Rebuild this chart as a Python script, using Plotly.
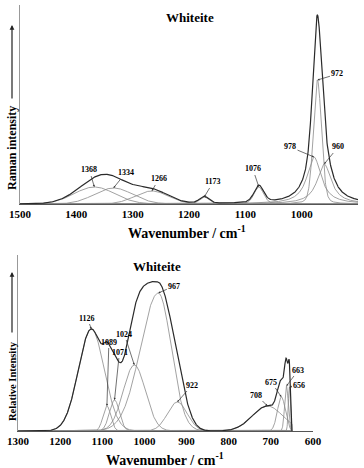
import numpy as np
import plotly.graph_objects as go

# ---------------- data ----------------
# Top panel: Raman band components (cm-1), heights (relative), FWHM (cm-1), Lorentzian fraction
top_centers = [1368, 1334, 1266, 1173, 1076, 978, 972, 960]
top_heights = [17, 16, 13, 7, 17, 47, 124, 40]
top_fwhm = [85, 80, 70, 20, 20, 30, 17, 30]
top_lorentz = [0, 0, 0, 0.3, 0.3, 1, 0.2, 1]
top_labels = ["1368", "1334", "1266", "1173", "1076", "978", "972", "960"]
top_range_wn = [1500, 900]
top_ticks = [1500, 1400, 1300, 1200, 1100, 1000, 900]

# Bottom panel: infrared band components (left / right half widths may differ)
bot_centers = [1126, 1089, 1071, 1024, 967, 922, 708, 675, 663, 656]
bot_heights = [102, 25, 31, 66, 138, 29, 25, 34, 45, 44]
bot_fwhm_left = [72, 22, 28, 62, 100, 55, 85, 22, 10, 6]
bot_fwhm_right = [72, 22, 28, 62, 72, 55, 85, 22, 10, 6]
bot_labels = ["1126", "1089", "1071", "1024", "967", "922", "708", "675", "663", "656"]
bot_data_wn = [1300, 650]
bot_range_wn = [1300, 600]
bot_ticks = [1300, 1200, 1100, 1000, 900, 800, 700, 600]

# label offsets (pixels, text centre relative to arrow tip)
top_ax = [-5, 12, 7, 9, -6, -24, 20, 14]
top_ay = [-17, -15, -12, -15, -18, -10, -6, -17]
bot_ax = [-4, 2, 5, -10, 16, 15, -11, -10, 12, 10]
bot_ay = [-11, -64, -48, -31, -7, -17, -11, -15, -16, -2]

W, H = 364, 468
FONT = "Liberation Serif"


def band(x, c, h, w, eta):
    g = np.exp(-4 * np.log(2) * ((x - c) / w) ** 2)
    l = 1.0 / (1.0 + ((x - c) / (w / 2.0)) ** 2)
    return h * (eta * l + (1 - eta) * g)


def band_asym(x, c, h, wl, wr):
    w = np.where(x > c, wl, wr)
    return h * np.exp(-4 * np.log(2) * ((x - c) / w) ** 2)


fig = go.Figure()

# ---- top panel ----
xt = np.linspace(top_range_wn[0], top_range_wn[1], 1201)
env_t = np.zeros_like(xt)
for c, h, w, e in zip(top_centers, top_heights, top_fwhm, top_lorentz):
    yc = band(xt, c, h, w, e)
    env_t += yc
    fig.add_trace(go.Scatter(x=xt, y=yc, mode="lines", line=dict(color="#8a8a8a", width=0.8),
                             xaxis="x", yaxis="y", showlegend=False, hoverinfo="skip"))
fig.add_trace(go.Scatter(x=xt, y=env_t, mode="lines", line=dict(color="#2a2a2a", width=1.2),
                         xaxis="x", yaxis="y", showlegend=False, hoverinfo="skip"))

# ---- bottom panel ----
xb = np.linspace(bot_data_wn[0], bot_data_wn[1], 1301)
xb_closed = np.append(xb, bot_data_wn[1])
env_b = np.zeros_like(xb)
for c, h, wl, wr in zip(bot_centers, bot_heights, bot_fwhm_left, bot_fwhm_right):
    yc = band_asym(xb, c, h, wl, wr)
    env_b += yc
    fig.add_trace(go.Scatter(x=xb_closed, y=np.append(yc, 0), mode="lines",
                             line=dict(color="#8a8a8a", width=0.8),
                             xaxis="x2", yaxis="y2", showlegend=False, hoverinfo="skip"))
fig.add_trace(go.Scatter(x=xb_closed, y=np.append(env_b, 0), mode="lines",
                         line=dict(color="#2a2a2a", width=1.2),
                         xaxis="x2", yaxis="y2", showlegend=False, hoverinfo="skip"))


def px(v):
    return v / W


def py(v):
    return 1 - v / H


tickfont = dict(family=FONT, size=11, color="black")
fig.update_layout(
    width=W, height=H, margin=dict(l=0, r=0, t=0, b=0),
    paper_bgcolor="white", plot_bgcolor="white",
    xaxis=dict(domain=[px(20), px(358)], range=top_range_wn, anchor="y",
               tickvals=top_ticks, ticktext=[f"<b>{t}</b>" for t in top_ticks],
               tickfont=tickfont, showgrid=False, zeroline=False,
               showline=True, linecolor="#555", linewidth=1, ticks="", automargin=False),
    yaxis=dict(domain=[py(204), py(5)], range=[0, 199], anchor="x",
               showticklabels=False, showgrid=False, zeroline=False,
               showline=True, linecolor="#999", linewidth=1, ticks="", automargin=False),
    xaxis2=dict(domain=[px(18), px(313)], range=bot_range_wn, anchor="y2",
                tickvals=bot_ticks, ticktext=[f"<b>{t}</b>" for t in bot_ticks],
                tickfont=tickfont, showgrid=False, zeroline=False,
                showline=True, linecolor="#555", linewidth=1, ticks="", automargin=False),
    yaxis2=dict(domain=[py(431), py(255)], range=[0, 176], anchor="x2",
                showticklabels=False, showgrid=False, zeroline=False,
                showline=True, linecolor="#999", linewidth=1, ticks="", automargin=False),
)

ann = []
lab_font = dict(family=FONT, size=8, color="black")
for c, h, ax, ay, lab in zip(top_centers, top_heights, top_ax, top_ay, top_labels):
    ann.append(dict(x=c, y=h, xref="x", yref="y", text=f"<b>{lab}</b>", showarrow=True,
                    ax=ax, ay=ay, arrowhead=2, arrowsize=0.6, arrowwidth=0.7,
                    arrowcolor="#333", font=lab_font, standoff=0))
for c, h, ax, ay, lab in zip(bot_centers, bot_heights, bot_ax, bot_ay, bot_labels):
    ann.append(dict(x=c, y=h, xref="x2", yref="y2", text=f"<b>{lab}</b>", showarrow=True,
                    ax=ax, ay=ay, arrowhead=2, arrowsize=0.6, arrowwidth=0.7,
                    arrowcolor="#333", font=lab_font, standoff=0))

title_font = dict(family=FONT, size=13, color="black")
ann.append(dict(x=px(190), y=py(18), xref="paper", yref="paper", text="<b>Whiteite</b>",
                showarrow=False, font=title_font, xanchor="center", yanchor="middle"))
ann.append(dict(x=px(157), y=py(266), xref="paper", yref="paper", text="<b>Whiteite</b>",
                showarrow=False, font=title_font, xanchor="center", yanchor="middle"))
xt_font = dict(family=FONT, size=14, color="black")
ann.append(dict(x=px(187), y=py(232), xref="paper", yref="paper",
                text="<b>Wavenumber / cm<sup>-1</sup></b>",
                showarrow=False, font=xt_font, xanchor="center", yanchor="middle"))
ann.append(dict(x=px(165), y=py(459), xref="paper", yref="paper",
                text="<b>Wavenumber / cm<sup>-1</sup></b>",
                showarrow=False, font=xt_font, xanchor="center", yanchor="middle"))
ann.append(dict(x=px(12), y=py(148), xref="paper", yref="paper", text="<b>Raman intensity</b>",
                textangle=-90, showarrow=False, font=dict(family=FONT, size=12, color="black"),
                xanchor="center", yanchor="middle"))
ann.append(dict(x=px(12), y=py(381), xref="paper", yref="paper", text="<b>Relative Intensity</b>",
                textangle=-90, showarrow=False, font=dict(family=FONT, size=10.5, color="black"),
                xanchor="center", yanchor="middle"))
# axis direction arrows
ann.append(dict(x=px(12), y=py(25), xref="paper", yref="paper", text="", showarrow=True,
                ax=0, ay=75, arrowhead=2, arrowsize=0.8, arrowwidth=1.2, arrowcolor="#222"))
ann.append(dict(x=px(12), y=py(272), xref="paper", yref="paper", text="", showarrow=True,
                ax=0, ay=62, arrowhead=2, arrowsize=0.8, arrowwidth=1.2, arrowcolor="#222"))

fig.update_layout(annotations=ann)
fig.write_html("out.html")
